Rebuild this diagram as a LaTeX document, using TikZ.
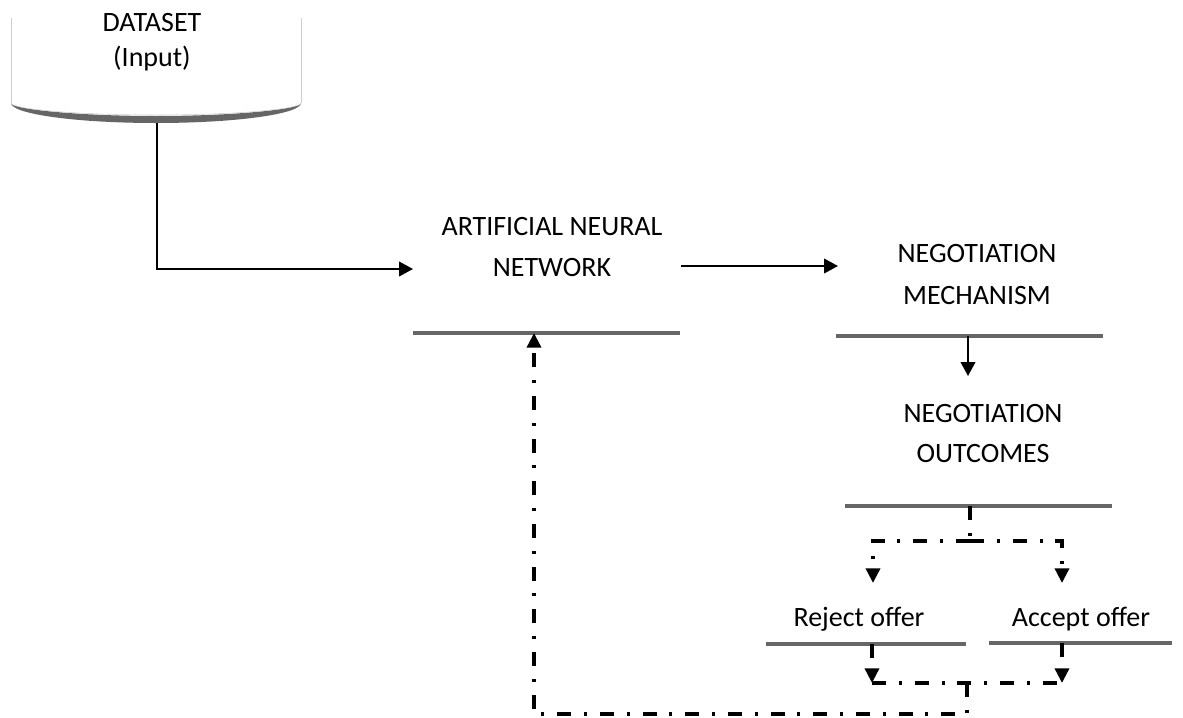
\documentclass[tikz,border=0pt]{standalone}
\usepackage{fontspec}
\setmainfont{Carlito}
\usetikzlibrary{arrows.meta}
\definecolor{barcol}{RGB}{102,102,102}
\definecolor{sidecol}{RGB}{205,205,205}
\begin{document}
\begin{tikzpicture}[x=0.75pt,y=-0.75pt,
  lbl/.style={inner sep=0pt,anchor=south,align=center,text depth=0pt,font=\fontsize{21}{#1}\selectfont},
  lbl/.default=30,
  bar/.style={barcol,line width=2.5pt},
  flow/.style={line width=1.4pt,-{Triangle[length=10.5pt,width=11pt]}},
  dd/.style={line width=2.6pt,dash pattern=on 10.5pt off 9.75pt on 2.25pt off 9.5pt},
  ddarrow/.style={dd,-{Triangle[length=11pt,width=10.5pt]}}]
\useasboundingbox (0,0) rectangle (1183,718);

% stored data shape
\draw[sidecol] (11,18) -- (11,103) (301,18) -- (301,103);
\fill[barcol] (11,103) .. controls (11,114) and (76,123) .. (156,123) .. controls (236,123) and (301,114) .. (301,103)
  .. controls (301,109) and (236,116) .. (156,116) .. controls (76,116) and (11,109) .. cycle;
\draw[sidecol] (11,103) .. controls (11,109) and (76,115) .. (156,115) .. controls (236,115) and (301,109) .. (301,103);
\node[lbl=26.25] (ds) at (152,67) {DATASET\\(Input)};

\node[lbl=30.75] (ann) at (552,277) {ARTIFICIAL NEURAL\\NETWORK};
\node[lbl=31.5] (nm) at (977,305) {NEGOTIATION\\MECHANISM};
\node[lbl=30] (no) at (983,463) {NEGOTIATION\\OUTCOMES};
\node[lbl] (rej) at (859,627) {Reject offer};
\node[lbl] (acc) at (1081,627) {Accept offer};

% bars under the boxes
\draw[bar] (413,333) -- (680,333);
\draw[bar] (836,336) -- (1103,336);
\draw[bar] (845,506) -- (1112,506);
\draw[bar] (766,644) -- (966,644);
\draw[bar] (989,643) -- (1172,643);

\coordinate (dsOut) at (157,123);
\coordinate (annIn) at (413,269);
\coordinate (annOut) at (681,266);
\coordinate (nmIn) at (838,266);
\coordinate (nmOut) at (968,336);
\coordinate (noIn) at (968,376);
\coordinate (noOut) at (970,506);
\coordinate (split) at (970,541);
\coordinate (rejIn) at (873,583);
\coordinate (accIn) at (1062,583);
\coordinate (rejOut) at (872,644);
\coordinate (accOut) at (1062,643);
\coordinate (rejDn) at (872,683);
\coordinate (accDn) at (1062,683);
\coordinate (mrg) at (967,683);
\coordinate (base) at (534,714);
\coordinate (annFb) at (534,333);

\draw[flow] (dsOut) |- (annIn);
\draw[flow] (annOut) -- (nmIn);
\draw[flow] (nmOut) -- (noIn);

\draw[dd] (noOut) -- (split);
\draw[ddarrow] (split) -| (rejIn);
\draw[ddarrow] (split) -| (accIn);

\draw[ddarrow] (rejOut) -- (rejDn);
\draw[ddarrow] (accOut) -- (accDn);
\draw[dd] (rejDn) -- (accDn);
\draw[ddarrow] (mrg) |- (base) -- (annFb);

\end{tikzpicture}
\end{document}
